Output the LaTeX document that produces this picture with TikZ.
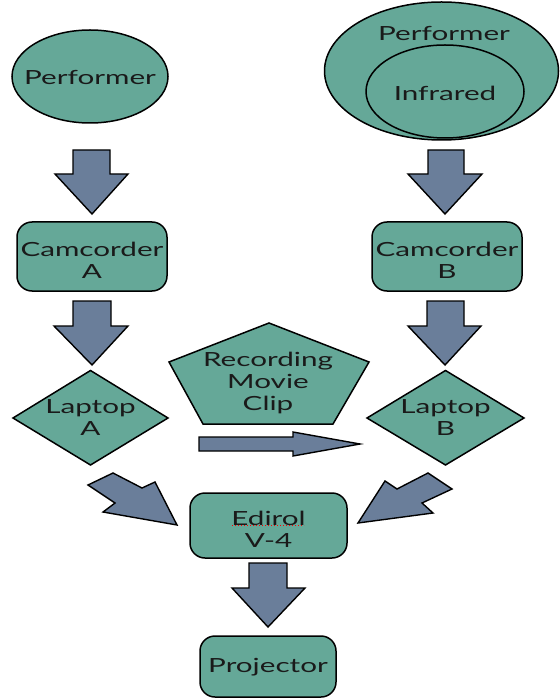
\documentclass[tikz,border=0pt]{standalone}
\usepackage{fontspec}
\setmainfont{Lato}
\usetikzlibrary{shapes.geometric}
\definecolor{tealfill}{HTML}{65A898}
\definecolor{slatefill}{HTML}{6A7E9A}
\definecolor{ink}{HTML}{1A1A1A}
\newcommand{\sx}[1]{\scalebox{1.52}[1]{#1}}
\tikzset{
  shp/.style={draw=black, fill=tealfill, line width=1.5pt},
  barrow/.style={draw=black, fill=slatefill, line width=1.4pt, line join=miter},
  lbl/.style={text=ink, font=\fontsize{19.5}{22}\selectfont, align=center, inner sep=0pt},
  rbox/.style={shp, rounded corners=15pt},
}
\begin{document}
\begin{tikzpicture}[x=1pt,y=-1pt]
\useasboundingbox (0,0) rectangle (559,700);
% performers
\draw[shp] (90,76.5) ellipse [x radius=78, y radius=46.5];
\node[lbl] (perfA) at (90,77) {\sx{Performer}};
\draw[shp] (441.5,71) ellipse [x radius=117, y radius=69];
\draw[shp] (445,91.5) ellipse [x radius=79, y radius=46.5];
\node[lbl] (perfB) at (444,33) {\sx{Performer}};
\node[lbl] (infra) at (445,93) {\sx{Infrared}};
% camcorders
\draw[rbox] (17,222) rectangle (167,291);
\node[lbl] (camA) at (92,260) {\sx{Camcorder}\\\sx{A}};
\draw[rbox] (372,222) rectangle (522,291);
\node[lbl] (camB) at (447,260) {\sx{Camcorder}\\\sx{B}};
% laptops
\draw[shp] (13,418) -- (90.5,370.5) -- (168,418) -- (90.5,465) -- cycle;
\node[lbl] (lapA) at (90.5,418) {\sx{Laptop}\\\sx{A}};
\draw[shp] (367,418) -- (445.5,370.5) -- (524,418) -- (445.5,465) -- cycle;
\node[lbl] (lapB) at (445.5,418) {\sx{Laptop}\\\sx{B}};
% pentagon
\draw[shp] (269,323) -- (369,362) -- (333,424) -- (203,424) -- (169,362) -- cycle;
\node[lbl] (rec) at (268,383) {\sx{Recording}\\\sx{Movie}\\\sx{Clip}};
% edirol & projector
\draw[rbox] (190,493) rectangle (347,558);
\node[lbl] (edi) at (268.5,529) {\sx{Edirol}\\\sx{V-4}};
\draw[red, dotted, line width=1pt] (232,525) -- (304,525);
\draw[rbox] (200,636) rectangle (336,697);
\node[lbl] (proj) at (268,667) {\sx{Projector}};
% block arrows
\draw[barrow] (73,150) -- (110,150) -- (110,174) -- (128,174) -- (92,214) -- (55,174) -- (73,174) -- cycle;
\draw[barrow] (428,150) -- (464,150) -- (464,174) -- (482,174) -- (445,214) -- (408,174) -- (428,174) -- cycle;
\draw[barrow] (73,301) -- (111,301) -- (111,326) -- (128,326) -- (92,365) -- (54,326) -- (73,326) -- cycle;
\draw[barrow] (427,301) -- (464,301) -- (464,326) -- (481,326) -- (445,365) -- (408,326) -- (427,326) -- cycle;
\draw[barrow] (249,563) -- (287,563) -- (287,588) -- (305,588) -- (268,627) -- (232,588) -- (249,588) -- cycle;
\draw[barrow] (199,437) -- (293,437) -- (293,432) -- (360,444) -- (293,456) -- (293,451) -- (199,451) -- cycle;
\draw[barrow] (88,485) -- (113,473) -- (142,488) -- (155,482) -- (177,525) -- (103,512) -- (115,503) -- cycle;
\draw[barrow] (428,473) -- (397,489) -- (385,481) -- (358,523) -- (433,513) -- (422,503) -- (452,489) -- cycle;
\end{tikzpicture}
\end{document}
